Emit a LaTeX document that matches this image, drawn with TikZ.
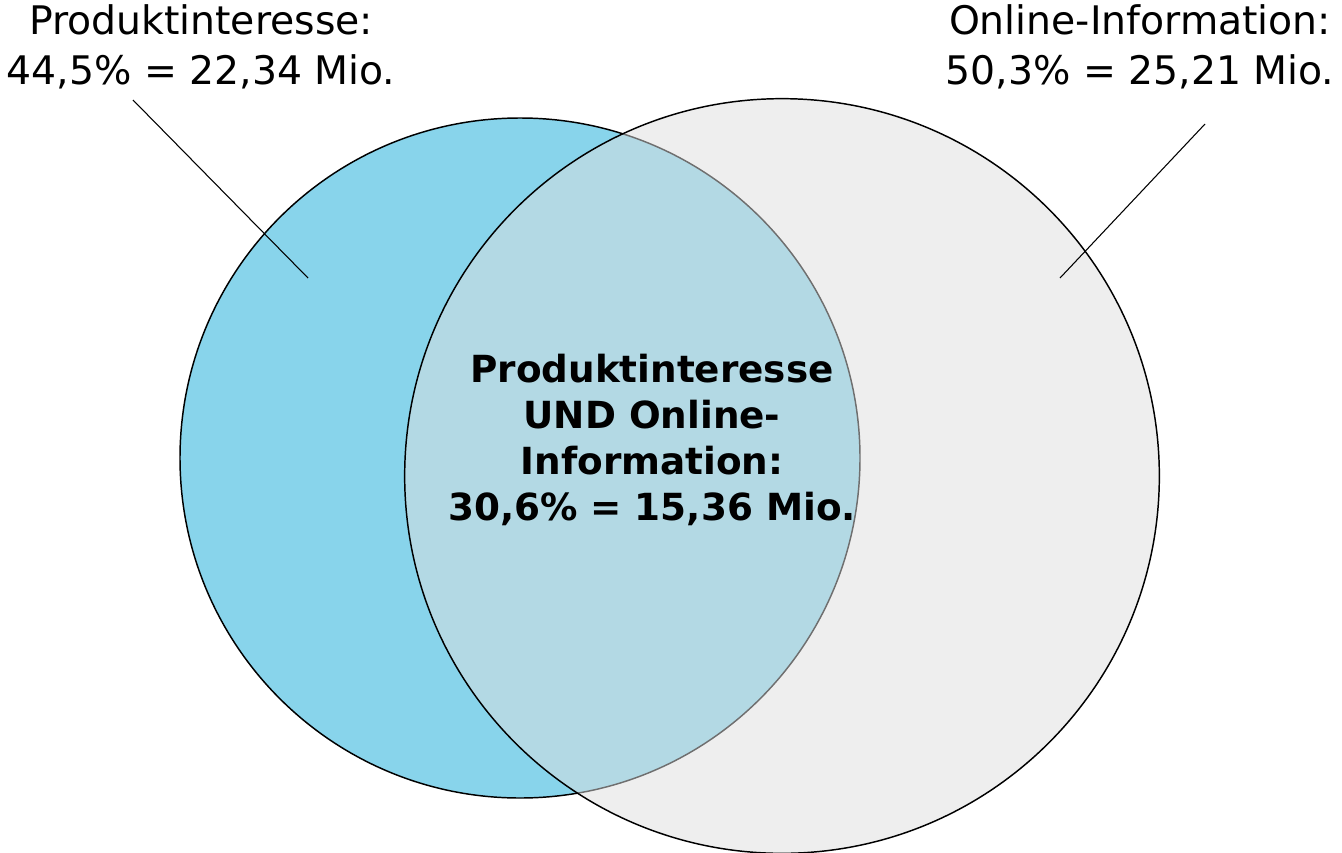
\documentclass[tikz,border=0pt]{standalone}
\usepackage{fontspec}
\setmainfont{DejaVu Sans}
\definecolor{prodblue}{HTML}{88D4EB}
\definecolor{onlinegrey}{HTML}{DEDEDE}
\begin{document}
\begin{tikzpicture}
  [x=0.75pt,y=-0.75pt,
   setcircle/.style={circle,draw,line width=1.1pt,inner sep=0pt},
   toplabel/.style={align=center,inner sep=0pt,font=\fontsize{29.5}{37.5}\selectfont},
   midlabel/.style={align=center,inner sep=0pt,font=\bfseries\fontsize{28}{34.5}\selectfont}]
  \useasboundingbox (0,0) rectangle (1342,853);

  \node[setcircle,fill=prodblue,minimum size=510pt] (prod) at (520,458) {};
  \node[setcircle,fill=onlinegrey,fill opacity=0.5,minimum size=566pt] (online) at (782,476) {};

  \node[toplabel] (prodlabel) at (201,47) {Produktinteresse:\\44,5\% = 22,34 Mio.};
  \node[toplabel] (onlinelabel) at (1140,47) {Online-Information:\\50,3\% = 25,21 Mio.};
  \node[midlabel] (bothlabel) at (652,440) {Produktinteresse\\UND Online-\\Information:\\30,6\% = 15,36 Mio.};

  \coordinate (p1) at (133,100);
  \coordinate (p2) at (308,278);
  \coordinate (o1) at (1205,124);
  \coordinate (o2) at (1060,278);
  \foreach \from/\to in {p1/p2,o1/o2}
    \draw[line width=0.8pt] (\from) -- (\to);

\end{tikzpicture}
\end{document}
